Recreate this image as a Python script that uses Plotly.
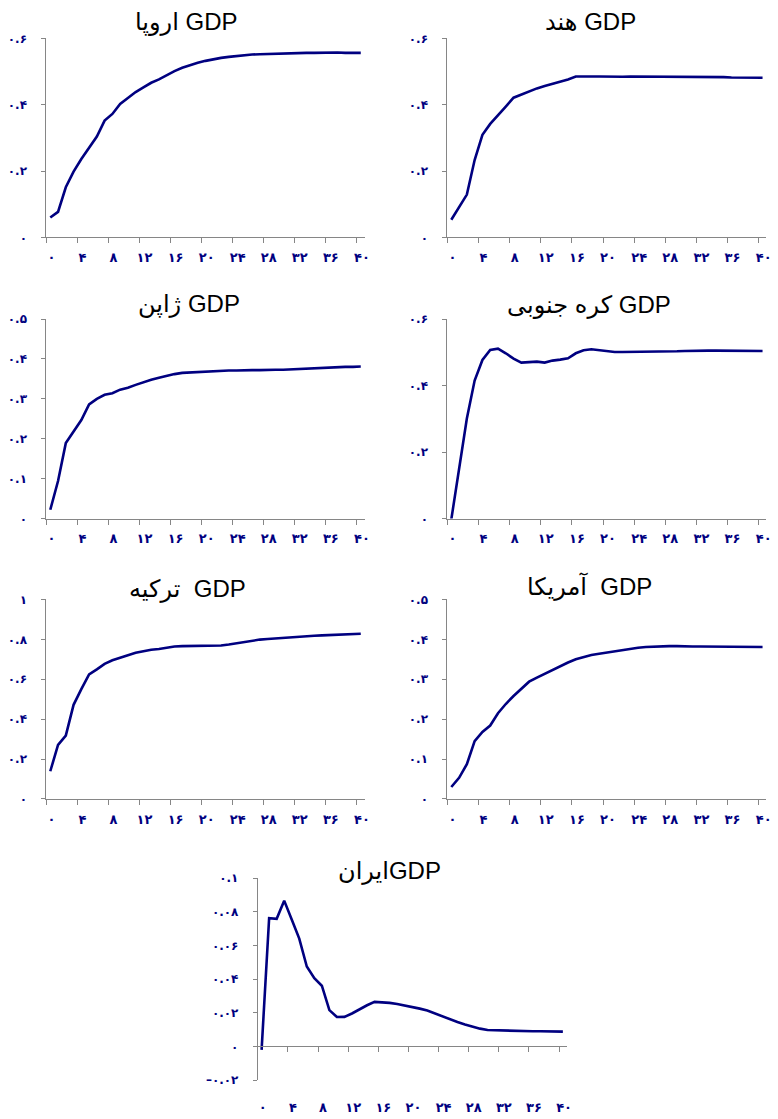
import plotly.graph_objects as go

# دوره‌ها (۰ تا ۴۰)
periods = list(range(41))

x_tickvals = [0, 4, 8, 12, 16, 20, 24, 28, 32, 36, 40]
x_ticktext = ["۰", "۴", "۸", "۱۲", "۱۶", "۲۰", "۲۴", "۲۸", "۳۲", "۳۶", "۴۰"]

europe = [0.060, 0.077, 0.151, 0.198, 0.236, 0.270, 0.304, 0.352, 0.372, 0.402,
          0.421, 0.438, 0.452, 0.466, 0.476, 0.489, 0.501, 0.511, 0.519, 0.526,
          0.532, 0.537, 0.541, 0.544, 0.547, 0.549, 0.551, 0.552, 0.553, 0.554,
          0.555, 0.555, 0.556, 0.556, 0.556, 0.557, 0.557, 0.557, 0.556, 0.556,
          0.556]
india = [0.053, 0.091, 0.129, 0.233, 0.309, 0.342, 0.367, 0.394, 0.421, 0.431,
         0.440, 0.449, 0.456, 0.462, 0.468, 0.476, 0.485, 0.486, 0.485, 0.485,
         0.484, 0.484, 0.484, 0.485, 0.485, 0.485, 0.485, 0.485, 0.485, 0.485,
         0.485, 0.484, 0.484, 0.484, 0.483, 0.483, 0.482, 0.482, 0.482, 0.481,
         0.481]
japan = [0.022, 0.094, 0.189, 0.218, 0.247, 0.286, 0.300, 0.310, 0.314, 0.323,
         0.328, 0.335, 0.342, 0.348, 0.353, 0.358, 0.362, 0.365, 0.366, 0.368,
         0.369, 0.370, 0.370, 0.371, 0.371, 0.372, 0.372, 0.372, 0.373, 0.373,
         0.373, 0.374, 0.375, 0.376, 0.377, 0.378, 0.378, 0.379, 0.380, 0.380,
         0.381]
korea = [-0.003, 0.152, 0.301, 0.415, 0.477, 0.507, 0.511, 0.497, 0.481, 0.469,
         0.471, 0.472, 0.469, 0.475, 0.478, 0.482, 0.497, 0.506, 0.509, 0.506,
         0.503, 0.501, 0.501, 0.501, 0.501, 0.502, 0.502, 0.502, 0.503, 0.503,
         0.504, 0.505, 0.505, 0.505, 0.505, 0.505, 0.505, 0.505, 0.505, 0.504,
         0.504]
turkey = [0.139, 0.271, 0.318, 0.472, 0.551, 0.625, 0.650, 0.677, 0.695, 0.710,
          0.721, 0.733, 0.741, 0.748, 0.752, 0.759, 0.764, 0.766, 0.766, 0.766,
          0.766, 0.766, 0.769, 0.774, 0.781, 0.787, 0.794, 0.799, 0.802, 0.805,
          0.809, 0.812, 0.814, 0.817, 0.818, 0.820, 0.822, 0.823, 0.825, 0.827,
          0.828]
usa = [0.030, 0.053, 0.087, 0.145, 0.168, 0.184, 0.215, 0.238, 0.258, 0.277,
       0.294, 0.304, 0.314, 0.323, 0.333, 0.342, 0.350, 0.356, 0.361, 0.364,
       0.367, 0.370, 0.374, 0.376, 0.379, 0.381, 0.382, 0.383, 0.383, 0.383,
       0.382, 0.382, 0.382, 0.382, 0.382, 0.382, 0.382, 0.382, 0.381, 0.381,
       0.381]
iran = [-0.002, 0.0763, 0.0759, 0.0867, 0.0755, 0.0641, 0.0475, 0.0406, 0.0361, 0.0216,
        0.0175, 0.0176, 0.0196, 0.0222, 0.0245, 0.0265, 0.0263, 0.0259, 0.0253, 0.0245,
        0.0235, 0.0225, 0.0214, 0.0196, 0.0178, 0.0161, 0.0145, 0.0131, 0.0118, 0.0106,
        0.0098, 0.0096, 0.0094, 0.0092, 0.0092, 0.0092, 0.0090, 0.0090, 0.0088, 0.0088,
        0.0088]

titles = ["اروپا GDP", "هند GDP", "ژاپن GDP", "کره جنوبی GDP",
          "ترکیه  GDP", "آمریکا  GDP", "ایرانGDP"]

y_tick_06 = [0, 0.2, 0.4, 0.6]
y_text_06 = ["۰", "۰.۲", "۰.۴", "۰.۶"]
y_tick_05 = [0, 0.1, 0.2, 0.3, 0.4, 0.5]
y_text_05 = ["۰", "۰.۱", "۰.۲", "۰.۳", "۰.۴", "۰.۵"]
y_tick_10 = [0, 0.2, 0.4, 0.6, 0.8, 1.0]
y_text_10 = ["۰", "۰.۲", "۰.۴", "۰.۶", "۰.۸", "۱"]
y_tick_iran = [-0.02, 0, 0.02, 0.04, 0.06, 0.08, 0.1]
y_text_iran = ["–۰.۰۲", "۰", "۰.۰۲", "۰.۰۴", "۰.۰۶", "۰.۰۸", "۰.۱"]

W, H = 778, 1119

# هر پنل: داده، بازه محور y، تیک‌ها، دامنه افقی (px)، دامنه عمودی (px)، مرکز عنوان (px)
panels = [
    (europe, [0, 0.6], y_tick_06, y_text_06, (46.7, 367.0), (31.7, 233.3), (188, 15)),
    (india, [0, 0.6], y_tick_06, y_text_06, (450.3, 771.4), (31.7, 233.3), (594, 15)),
    (japan, [0, 0.5], y_tick_05, y_text_05, (46.7, 367.0), (316.0, 518.0), (190, 301)),
    (korea, [0, 0.6], y_tick_06, y_text_06, (450.3, 771.4), (316.0, 518.0), (593, 302)),
    (turkey, [0, 1.0], y_tick_10, y_text_10, (46.7, 367.0), (600.0, 802.0), (189, 589)),
    (usa, [0, 0.5], y_tick_05, y_text_05, (450.3, 771.4), (600.0, 802.0), (593, 587)),
    (iran, [-0.02, 0.1], y_tick_iran, y_text_iran, (259.5, 570.3), (882.3, 1086.7), (392, 875)),
]

NAVY = "#000080"
AXIS_GRAY = "#868686"
x_font = dict(family="DejaVu Sans, Arial", size=13, color=NAVY, weight="bold")
y_font = dict(family="DejaVu Sans, Arial", size=12, color=NAVY, weight="bold")
X_STANDOFF = 3
X_SHIFT = 5

fig = go.Figure()
layout = {}
annotations = []

for i, (vals, yr, ytv, ytt, (x0, x1), (top, bot), (tx, ty)) in enumerate(panels):
    n = "" if i == 0 else str(i + 1)
    fig.add_trace(go.Scatter(
        x=periods, y=vals, mode="lines",
        line=dict(color=NAVY, width=2.6),
        xaxis="x" + n, yaxis="y" + n, showlegend=False, hoverinfo="skip",
    ))

    # تیک‌ها روی مرز دسته‌ها
    ydom = [1 - bot / H, 1 - top / H]
    xaxis = dict(
        domain=[x0 / W, x1 / W],
        range=[-0.5, 40.5],
        tickmode="array", tickvals=[v - 0.5 for v in x_tickvals], ticktext=x_ticktext,
        ticks="outside", ticklen=5, tickcolor=AXIS_GRAY, tickwidth=1,
        tickfont=x_font, ticklabelshift=X_SHIFT,
        showline=True, linecolor=AXIS_GRAY, linewidth=1,
        showgrid=False, zeroline=False, fixedrange=True,
        anchor="y" + n, ticklabelstandoff=X_STANDOFF,
    )
    if yr[0] < 0:
        # محور افقی روی صفر، برچسب‌ها پایین نمودار
        frac = (0 - yr[0]) / (yr[1] - yr[0])
        xaxis["anchor"] = "free"
        xaxis["position"] = ydom[0] + (ydom[1] - ydom[0]) * frac
        xaxis["ticklabelstandoff"] = int(round(X_STANDOFF + (bot - top) * frac)) + 7
    layout["xaxis" + n] = xaxis

    layout["yaxis" + n] = dict(
        domain=ydom, range=yr,
        tickmode="array", tickvals=ytv, ticktext=ytt,
        ticks="outside", ticklen=4, tickcolor=AXIS_GRAY, tickfont=y_font,
        showline=True, linecolor=AXIS_GRAY, linewidth=1,
        showgrid=False, zeroline=False, fixedrange=True,
        anchor="x" + n, ticklabelstandoff=12,
    )

    annotations.append(dict(
        text=titles[i], x=tx / W, y=1 - ty / H, xref="paper", yref="paper",
        xanchor="center", yanchor="middle", showarrow=False,
        font=dict(family="Arial, Liberation Sans, DejaVu Sans", size=24, color="black"),
    ))

fig.update_layout(
    width=W, height=H,
    margin=dict(l=0, r=0, t=0, b=0),
    paper_bgcolor="white", plot_bgcolor="white",
    annotations=annotations,
    **layout,
)

# حاشیه پیش‌فرض body صفحه حذف شود
fig.write_html("out.html", config={"displayModeBar": False},
               post_script="document.body.style.margin = '0';")
